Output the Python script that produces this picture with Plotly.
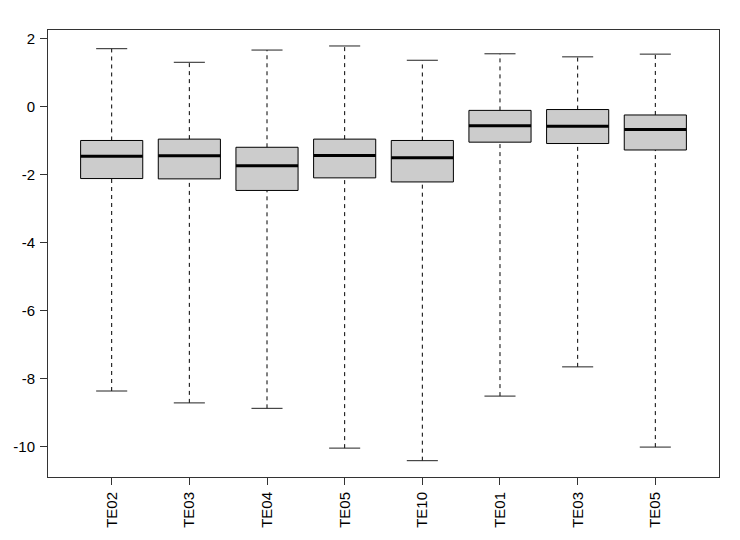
import plotly.graph_objects as go

labels = ["TE02", "TE03", "TE04", "TE05", "TE10", "TE01", "TE03", "TE05"]
upper_whisker = [1.71, 1.31, 1.67, 1.79, 1.37, 1.56, 1.47, 1.55]
q3 = [-0.99, -0.95, -1.19, -0.95, -0.99, -0.105, -0.08, -0.24]
median = [-1.457, -1.44, -1.73, -1.43, -1.50, -0.56, -0.57, -0.67]
q1 = [-2.11, -2.12, -2.46, -2.09, -2.21, -1.04, -1.08, -1.27]
lower_whisker = [-8.36, -8.71, -8.87, -10.04, -10.41, -8.51, -7.65, -10.01]

y_ticks = [2, 0, -2, -4, -6, -8, -10]
y_tick_text = ["2", "0", "-2", "-4", "-6", "-8", "-10"]

positions = list(range(1, len(labels) + 1))
half_box = 0.4
half_cap = 0.2

fig = go.Figure()

# whiskers (dashed)
wx, wy = [], []
for p, lo, hi, a, b in zip(positions, lower_whisker, upper_whisker, q1, q3):
    wx += [p, p, None, p, p, None]
    wy += [lo, a, None, b, hi, None]
fig.add_trace(go.Scatter(x=wx, y=wy, mode="lines",
                         line=dict(color="black", width=1, dash="4px,4px"),
                         hoverinfo="skip", showlegend=False))

# caps
cx, cy = [], []
for p, lo, hi in zip(positions, lower_whisker, upper_whisker):
    cx += [p - half_cap, p + half_cap, None, p - half_cap, p + half_cap, None]
    cy += [lo, lo, None, hi, hi, None]
fig.add_trace(go.Scatter(x=cx, y=cy, mode="lines",
                         line=dict(color="#222222", width=1),
                         hoverinfo="skip", showlegend=False))

# boxes
for p, a, b in zip(positions, q1, q3):
    fig.add_trace(go.Scatter(
        x=[p - half_box, p + half_box, p + half_box, p - half_box, p - half_box],
        y=[a, a, b, b, a], mode="lines", fill="toself", fillcolor="#cccccc",
        line=dict(color="black", width=1), hoverinfo="skip", showlegend=False))

# medians
mx, my = [], []
for p, m in zip(positions, median):
    mx += [p - half_box, p + half_box, None]
    my += [m, m, None]
fig.add_trace(go.Scatter(x=mx, y=my, mode="lines",
                         line=dict(color="black", width=3),
                         hoverinfo="skip", showlegend=False))

fig.update_layout(
    width=740, height=540,
    margin=dict(l=48, r=21, t=30, b=42),
    paper_bgcolor="white", plot_bgcolor="white",
    font=dict(family="Liberation Sans, Arial, sans-serif", size=15, color="black"),
    showlegend=False,
)
fig.update_xaxes(
    range=[0.18, 8.82], tickmode="array", tickvals=positions, ticktext=labels,
    tickangle=-90, ticks="outside", ticklen=7, tickcolor="#333333",
    showline=True, linecolor="#333333", linewidth=1, mirror=True,
    showgrid=False, zeroline=False, ticklabelstandoff=1,
    tickfont=dict(size=15),
)
fig.update_yaxes(
    range=[-10.89, 2.26], tickmode="array", tickvals=y_ticks, ticktext=y_tick_text,
    ticks="outside", ticklen=7, tickcolor="#333333",
    showline=True, linecolor="#333333", linewidth=1, mirror=True,
    showgrid=False, zeroline=False, ticklabelstandoff=2,
)

fig.write_html(
    "out.html",
    config={"displayModeBar": False},
    post_script="document.body.style.margin='0';document.body.style.overflow='hidden';",
)
